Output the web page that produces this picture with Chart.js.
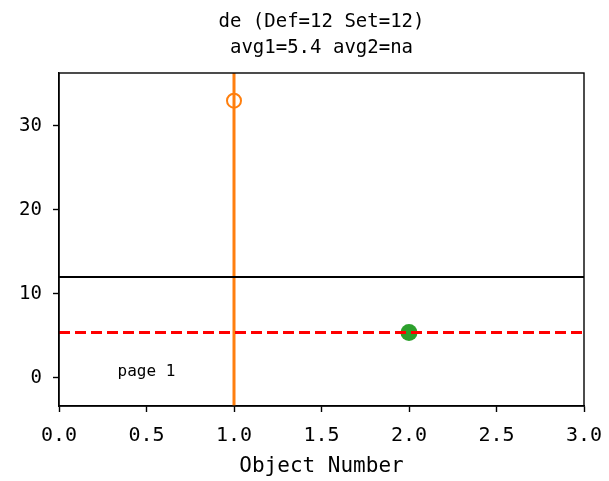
<!DOCTYPE html>
<html>
<head>
<meta charset="utf-8">
<script src="https://cdn.jsdelivr.net/npm/chart.js@4"></script>
<style>
  html, body { margin: 0; padding: 0; background: #fff; }
  #wrap { width: 609px; height: 481px; }
</style>
</head>
<body>
<div id="wrap"><canvas id="chart" width="609" height="481"></canvas></div>
<script>
const titleLines = ['de (Def=12 Set=12)', 'avg1=5.4 avg2=na'];
const xLabel = 'Object Number';
const xTicks = [0, 0.5, 1, 1.5, 2, 2.5, 3];
const yTicks = [0, 10, 20, 30];
const xRange = [0, 3];
const yRange = [-3.35, 36.3];

const setPoint = [1, 33];      // orange open circle
const avgPoint = [2, 5.4];     // green dot
const defLevel = 12;           // black line
const avg1 = 5.4;              // red dashed line
const pageNote = { text: 'page 1', x: 0.5, y: 0.7 };

const FONT = "'DejaVu Sans Mono', 'Noto Sans CJK SC', monospace";

const framePlugin = {
    id: 'frame',
    afterDraw(chart) {
        const { ctx, chartArea: a, scales } = chart;
        ctx.save();
        ctx.strokeStyle = '#000';
        ctx.lineWidth = 1.4;
        ctx.strokeRect(a.left, a.top, a.right - a.left, a.bottom - a.top);

        ctx.fillStyle = '#000';
        ctx.textAlign = 'center';
        ctx.textBaseline = 'alphabetic';
        ctx.font = "19px " + FONT;
        ctx.fillText(titleLines[0], (a.left + a.right) / 2, 27);
        ctx.fillText(titleLines[1], (a.left + a.right) / 2, 53);

        ctx.font = "16px " + FONT;
        ctx.textBaseline = 'middle';
        ctx.fillText(pageNote.text, scales.x.getPixelForValue(pageNote.x), scales.y.getPixelForValue(pageNote.y));
        ctx.restore();
    }
};

new Chart(document.getElementById('chart').getContext('2d'), {
    type: 'scatter',
    data: {
        datasets: [
            {
                data: [{ x: xRange[0], y: defLevel }, { x: xRange[1], y: defLevel }],
                showLine: true, borderColor: '#000', borderWidth: 2, pointRadius: 0
            },
            {
                data: [{ x: xRange[0], y: avg1 }, { x: xRange[1], y: avg1 }],
                showLine: true, borderColor: '#ff0000', borderWidth: 3, borderDash: [11, 5], pointRadius: 0
            },
            {
                data: [{ x: setPoint[0], y: yRange[0] }, { x: setPoint[0], y: yRange[1] }],
                showLine: true, borderColor: '#ff7f0e', borderWidth: 3, pointRadius: 0
            },
            {
                data: [{ x: setPoint[0], y: setPoint[1] }],
                pointRadius: 7, pointBorderWidth: 2, pointBorderColor: '#ff7f0e',
                pointBackgroundColor: 'rgba(255,255,255,0)'
            },
            {
                data: [{ x: avgPoint[0], y: avgPoint[1] }],
                pointRadius: 8.5, pointBorderWidth: 0, pointBackgroundColor: '#2ca02c'
            }
        ]
    },
    options: {
        responsive: false,
        animation: false,
        layout: { padding: { top: 73, right: 25, left: 0, bottom: 0 } },
        plugins: { legend: { display: false }, tooltip: { enabled: false } },
        scales: {
            x: {
                type: 'linear', min: xRange[0], max: xRange[1],
                afterBuildTicks: s => { s.ticks = xTicks.map(v => ({ value: v })); },
                afterFit: s => { s.height = 75; s.paddingLeft = 0; s.paddingRight = 0; },
                grid: { drawOnChartArea: false, drawTicks: true, tickLength: 6, color: '#000', tickWidth: 1.4 },
                border: { color: '#000', width: 1.4 },
                ticks: {
                    color: '#000', padding: 12, maxRotation: 0,
                    font: { family: FONT, size: 20 },
                    callback: v => v.toFixed(1)
                },
                title: {
                    display: true, text: xLabel, color: '#000',
                    font: { family: FONT, size: 21 }, padding: { top: 0, bottom: 2 }
                }
            },
            y: {
                type: 'linear', min: yRange[0], max: yRange[1],
                afterBuildTicks: s => { s.ticks = yTicks.map(v => ({ value: v })); },
                afterFit: s => { s.width = 59; s.paddingTop = 0; s.paddingBottom = 0; },
                grid: { drawOnChartArea: false, drawTicks: true, tickLength: 6, color: '#000', tickWidth: 1.4 },
                border: { color: '#000', width: 1.4 },
                ticks: {
                    color: '#000', padding: 11,
                    font: { family: FONT, size: 19 }
                }
            }
        }
    },
    plugins: [framePlugin]
});
</script>
</body>
</html>
